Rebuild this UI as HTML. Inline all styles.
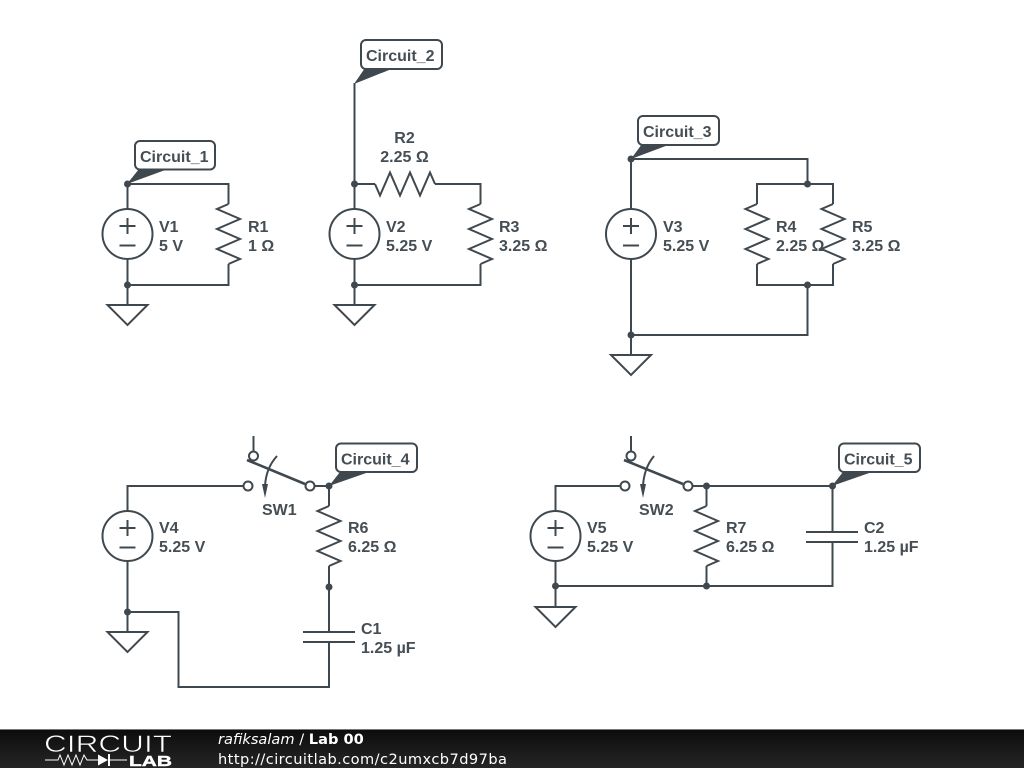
<!DOCTYPE html>
<html>
<head>
<meta charset="utf-8">
<style>
html,body{margin:0;padding:0;background:#fff;width:1024px;height:768px;overflow:hidden}
svg{display:block}
.w{fill:none;stroke:#3f484e;stroke-width:2}
.l{font:bold 16px "Liberation Sans",sans-serif;fill:#454e54}
.t{font:bold 16px "Liberation Sans",sans-serif;fill:#454e54}
.f{font:14.6px "DejaVu Sans",sans-serif;fill:#fff}
</style>
</head>
<body>
<svg width="1024" height="768" viewBox="0 0 1024 768" xmlns="http://www.w3.org/2000/svg">
<defs>
<linearGradient id="g" x1="0" y1="0" x2="0" y2="1"><stop offset="0" stop-color="#0c0c0c"/><stop offset="1" stop-color="#262626"/></linearGradient>
<g id="v"><circle cx="0" cy="0" r="25" fill="#fff" stroke="#3f484e" stroke-width="2"/><path class="w" d="M-8 -8H8M0 -16V0M-8 11.500H8"/></g>
<path id="r" class="w" d="M0 -30L-11.500 -25L11.500 -15L-11.500 -5L11.500 5L-11.500 15L11.500 25L0 30"/>
<path id="gnd" class="w" d="M-20 0H20L0 20Z"/>
</defs>

<!-- Circuit 1 -->
<path class="w" d="M127.500 184V209M127.500 259V305M127.500 184H228.500V204M228.500 264V285H127.500"/>
<use href="#v" x="127.500" y="234"/>
<use href="#r" x="228.500" y="234"/>
<use href="#gnd" x="127.500" y="305"/>
<circle cx="127.500" cy="184" r="3.500" fill="#3f484e"/><circle cx="127.500" cy="285" r="3.500" fill="#3f484e"/>
<polygon points="127,184 139,169 168,169" fill="#3f484e"/>
<rect x="135" y="141" width="80" height="28.500" rx="5" fill="#fff" stroke="#3f484e" stroke-width="2"/>
<text class="l" x="140" y="162">Circuit_1</text>
<text class="t" x="159" y="232">V1</text><text class="t" x="159" y="251">5 V</text>
<text class="t" x="248" y="232">R1</text><text class="t" x="248" y="251">1 Ω</text>

<!-- Circuit 2 -->
<path class="w" d="M354.500 83V209M354.500 259V305M354.500 184H375M435 184H480.500V204M480.500 264V285H354.500"/>
<use href="#v" x="354.500" y="234"/>
<path class="w" d="M375 184L380 195.500L390 172.500L400 195.500L410 172.500L420 195.500L430 172.500L435 184"/>
<use href="#r" x="480.500" y="234"/>
<use href="#gnd" x="354.500" y="305"/>
<circle cx="354.500" cy="184" r="3.500" fill="#3f484e"/><circle cx="354.500" cy="285" r="3.500" fill="#3f484e"/>
<polygon points="354,84 365,68 394,68" fill="#3f484e"/>
<rect x="361" y="40" width="81" height="29" rx="5" fill="#fff" stroke="#3f484e" stroke-width="2"/>
<text class="l" x="366" y="61">Circuit_2</text>
<text class="t" x="386" y="232">V2</text><text class="t" x="386" y="251">5.25 V</text>
<text class="t" x="404.500" y="143" text-anchor="middle">R2</text><text class="t" x="404.500" y="162" text-anchor="middle">2.25 Ω</text>
<text class="t" x="499" y="232">R3</text><text class="t" x="499" y="251">3.25 Ω</text>

<!-- Circuit 3 -->
<path class="w" d="M631 159V209M631 259V355M631 159H807.500V184M757 204V184H833V204M757 264V285H833V264M807.500 285V335H631"/>
<use href="#v" x="631" y="234"/>
<use href="#r" x="757" y="234"/>
<use href="#r" x="833" y="234"/>
<use href="#gnd" x="631" y="355"/>
<circle cx="631" cy="159" r="3.500" fill="#3f484e"/><circle cx="807.500" cy="184" r="3.500" fill="#3f484e"/><circle cx="807.500" cy="285" r="3.500" fill="#3f484e"/><circle cx="631" cy="335" r="3.500" fill="#3f484e"/>
<polygon points="631,159 642,144 671,144" fill="#3f484e"/>
<rect x="638" y="116" width="81" height="29" rx="5" fill="#fff" stroke="#3f484e" stroke-width="2"/>
<text class="l" x="643" y="137">Circuit_3</text>
<text class="t" x="663" y="232">V3</text><text class="t" x="663" y="251">5.25 V</text>
<text class="t" x="776" y="232">R4</text><text class="t" x="776" y="251">2.25 Ω</text>
<text class="t" x="852" y="232">R5</text><text class="t" x="852" y="251">3.25 Ω</text>

<!-- Circuit 4 -->
<path class="w" d="M127.500 511V486H243M127.500 561V632M253.500 436V452M315 486H329V506M329 566V632M303 632H355M303 642H355M329 642V687H178.500V612H127.500"/>
<use href="#v" x="127.500" y="536"/>
<use href="#r" x="329" y="536"/>
<use href="#gnd" x="127.500" y="632"/>
<circle class="w" cx="248" cy="486" r="4.500"/><circle class="w" cx="310" cy="486" r="4.500"/><circle class="w" cx="253.500" cy="456" r="4.500"/>
<path d="M247 460L305 484" fill="none" stroke="#3f484e" stroke-width="2.600"/>
<path class="w" d="M277 456Q266 468 265 486"/><polygon points="265,498 262,484 268,484" fill="#3f484e"/>
<circle cx="329" cy="486" r="3.500" fill="#3f484e"/><circle cx="329" cy="587" r="3.500" fill="#3f484e"/><circle cx="127.500" cy="612" r="3.500" fill="#3f484e"/>
<polygon points="329,486 340,472 369,472" fill="#3f484e"/>
<rect x="336" y="443.500" width="81" height="28.500" rx="5" fill="#fff" stroke="#3f484e" stroke-width="2"/>
<text class="l" x="341" y="464.500">Circuit_4</text>
<text class="t" x="262" y="515">SW1</text>
<text class="t" x="159" y="533">V4</text><text class="t" x="159" y="552">5.25 V</text>
<text class="t" x="348" y="533">R6</text><text class="t" x="348" y="552">6.25 Ω</text>
<text class="t" x="361" y="634">C1</text><text class="t" x="361" y="653">1.25 µF</text>

<!-- Circuit 5 -->
<path class="w" d="M555.500 511V486H620M555.500 561V607M631 436V452M692 486H832.500V532M706.500 486V506M706.500 566V586M806 532H858M806 542H858M832.500 542V586H555.500"/>
<use href="#v" x="555.500" y="536"/>
<use href="#r" x="706.500" y="536"/>
<use href="#gnd" x="555.500" y="607"/>
<circle class="w" cx="625" cy="486" r="4.500"/><circle class="w" cx="688" cy="486" r="4.500"/><circle class="w" cx="631" cy="456" r="4.500"/>
<path d="M624 460L683 484" fill="none" stroke="#3f484e" stroke-width="2.600"/>
<path class="w" d="M654 456Q644 468 643 486"/><polygon points="643,498 640,484 646,484" fill="#3f484e"/>
<circle cx="706.500" cy="486" r="3.500" fill="#3f484e"/><circle cx="832.500" cy="486" r="3.500" fill="#3f484e"/><circle cx="555.500" cy="586" r="3.500" fill="#3f484e"/><circle cx="706.500" cy="586" r="3.500" fill="#3f484e"/>
<polygon points="832,486 843,472 872,472" fill="#3f484e"/>
<rect x="839" y="443.500" width="81" height="28.500" rx="5" fill="#fff" stroke="#3f484e" stroke-width="2"/>
<text class="l" x="844" y="464.500">Circuit_5</text>
<text class="t" x="639" y="515">SW2</text>
<text class="t" x="587" y="533">V5</text><text class="t" x="587" y="552">5.25 V</text>
<text class="t" x="726" y="533">R7</text><text class="t" x="726" y="552">6.25 Ω</text>
<text class="t" x="864" y="533">C2</text><text class="t" x="864" y="552">1.25 µF</text>

<!-- Footer -->
<rect x="0" y="729" width="1024" height="39" fill="url(#g)"/>
<rect x="0" y="729" width="1024" height="1" fill="#777"/>
<text x="44" y="752" font-family="Liberation Sans, sans-serif" font-size="24" fill="#fff" stroke="#141414" stroke-width="0.600" textLength="128" lengthAdjust="spacingAndGlyphs">CIRCUIT</text>
<path d="M45 760H58L60 755L64 765L68 755L72 765L76 755L80 765L84 755L87 760H98M108 760H127" fill="none" stroke="#fff" stroke-width="1"/>
<polygon points="98,754.500 108,760 98,765.500" fill="#fff"/><rect x="108" y="754" width="2" height="12" fill="#fff"/>
<text x="129" y="766" font-family="Liberation Sans, sans-serif" font-size="15" font-weight="bold" fill="#fff" stroke="#fff" stroke-width="0.400" textLength="43" lengthAdjust="spacingAndGlyphs">LAB</text>
<text class="f" x="218" y="744"><tspan font-style="italic">rafiksalam</tspan> / <tspan font-weight="bold">Lab 00</tspan></text>
<text class="f" x="218" y="764" textLength="289">http://circuitlab.com/c2umxcb7d97ba</text>
</svg>
</body>
</html>
